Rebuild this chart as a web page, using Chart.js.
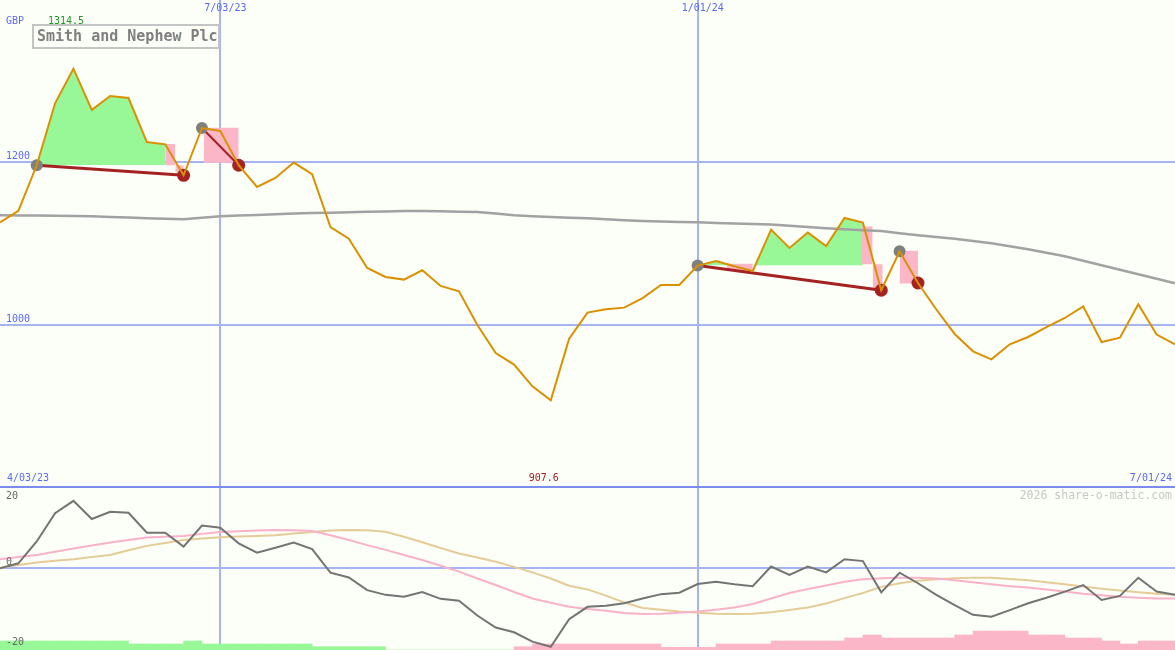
<!DOCTYPE html>
<html>
<head>
<meta charset="utf-8">
<script src="https://cdn.jsdelivr.net/npm/chart.js@4.4.1/dist/chart.umd.min.js"></script>
<style>
  html, body { margin: 0; padding: 0; background: #FCFEF8; }
  #wrap { position: relative; width: 1175px; height: 650px; overflow: hidden; background: #FCFEF8; }
  canvas { position: absolute; left: 0; display: block; }
  #top { top: 0; }
  #bot { top: 486px; }
</style>
</head>
<body>
<div id="wrap">
  <canvas id="top" width="1175" height="486"></canvas>
  <canvas id="bot" width="1175" height="164"></canvas>
</div>
<script>
// weekly closes, index 0 = first week on the chart
var price = [1126, 1140, 1196, 1272, 1314.5, 1264, 1281, 1278.5, 1224.5, 1221.7,
  1183.7, 1241.7, 1238, 1196, 1169.3, 1180.4, 1199.3, 1185, 1120.2, 1106,
  1070, 1058.9, 1055.7, 1067.1, 1047.9, 1041.3, 1000, 965.6, 951.4, 924.8,
  907.6, 983.3, 1015.2, 1019.3, 1021.3, 1033.1, 1049.1, 1049.1, 1072.9, 1078.5,
  1072, 1066.3, 1117, 1094.5, 1113.4, 1096.9, 1131.3, 1125.6, 1042.6, 1090.4,
  1051.5, 1019, 989, 967.7, 957.9, 976.3, 985.3, 997.5, 1008.6, 1022.9,
  979.1, 984.5, 1025.4, 988.2, 976.3];

// long moving average (grey)
var avg = [1134.6, 1134.4, 1134.2, 1134, 1133.7, 1133.4, 1132.6, 1131.8, 1131, 1130.3,
  1129.7, 1131.5, 1133.4, 1134.2, 1135, 1135.9, 1136.7, 1137.3, 1137.8, 1138.4,
  1138.9, 1139.4, 1139.9, 1139.8, 1139.5, 1139.1, 1138.7, 1136.7, 1134.6, 1133.5,
  1132.5, 1131.7, 1130.9, 1129.7, 1128.5, 1127.7, 1126.9, 1126.4, 1126, 1125.2,
  1124.4, 1123.8, 1123.2, 1121.7, 1120.2, 1118.8, 1117.4, 1116.3, 1115.3, 1112.6,
  1110, 1107.9, 1105.8, 1103, 1100.2, 1096.6, 1092.9, 1088.6, 1084.3, 1078.8,
  1073.3, 1067.8, 1062.2, 1056.7, 1051.2];

// lower panel: oscillator and its two smoothings
var osc = [-0.1, 1.3, 7.3, 15.1, 18.5, 13.5, 15.5, 15.2, 9.7, 9.7,
  5.9, 11.7, 11.1, 6.8, 4.2, 5.6, 7.0, 5.2, -1.3, -2.6,
  -6.1, -7.4, -7.9, -6.6, -8.5, -9.0, -13.1, -16.4, -17.7, -20.3,
  -21.7, -14.1, -10.7, -10.4, -9.7, -8.4, -7.2, -6.8, -4.4, -3.8,
  -4.5, -5.0, 0.4, -1.9, 0.4, -1.2, 2.4, 1.9, -6.7, -1.3,
  -4.2, -7.4, -10.2, -12.9, -13.4, -11.6, -9.7, -8.2, -6.5, -4.7,
  -8.8, -7.7, -2.7, -6.5, -7.4];
var oscPink = [2.4, 3.0, 3.6, 4.5, 5.4, 6.2, 7.0, 7.7, 8.4, 8.6,
  8.8, 9.4, 9.9, 10.1, 10.3, 10.5, 10.4, 10.2, 9.0, 7.7,
  6.3, 5.0, 3.6, 2.2, 0.6, -1.0, -2.9, -4.7, -6.6, -8.4,
  -9.6, -10.7, -11.3, -11.8, -12.4, -12.7, -12.6, -12.3, -12.0, -11.5,
  -10.9, -9.9, -8.4, -6.9, -5.8, -4.8, -3.8, -3.1, -2.8, -2.7,
  -2.7, -2.9, -3.4, -3.9, -4.5, -5.0, -5.4, -5.9, -6.5, -7.1,
  -7.5, -7.9, -8.2, -8.4, -8.4];
var oscTan = [0, 0.8, 1.5, 2.0, 2.4, 3.0, 3.6, 4.9, 6.1, 6.9,
  7.7, 8.1, 8.5, 8.7, 8.8, 9.0, 9.5, 9.9, 10.3, 10.5,
  10.4, 10.0, 8.6, 7.1, 5.5, 4.0, 2.9, 1.7, 0.3, -1.2,
  -2.9, -4.9, -5.9, -7.6, -9.5, -11.0, -11.5, -12.0, -12.3, -12.6,
  -12.7, -12.6, -12.2, -11.6, -10.9, -9.8, -8.3, -6.9, -5.2, -4.2,
  -3.5, -3.1, -2.8, -2.7, -2.7, -3.0, -3.4, -3.9, -4.5, -5.1,
  -5.7, -6.2, -6.7, -7.1, -7.4];
// histogram strip, one per week interval (+ green, - pink)
var hist = [3, 3, 3, 3, 3, 3, 3, 2, 2, 2,
  3, 2, 2, 2, 2, 2, 2, 1.1, 1.1, 1.1,
  1.1, 0, 0, 0, 0, 0, 0, 0, -1.1, -2,
  -2, -2, -2, -2, -2, -2, -0.9, -0.9, -0.9, -2,
  -2, -2, -3, -3, -3, -3, -4, -5, -4, -4,
  -4, -4, -5, -6.3, -6.3, -6.3, -5, -5, -4, -4,
  -3, -2, -3, -3];

var dateTicks = ['4/03/23', '7/03/23', '1/01/24', '7/01/24'];
var dateTickIdx = [0, 12, 38, 64];
var priceGrid = [1200, 1000];
var oscGrid = [20, 0, -20];

// rally runs (green), measured from the price at the run start
var greenRuns = [[2, 9], [38, 47]];
// pull-back blocks (pink)
var pinkX0 = [9, 9.55, 11.1, 39.6, 46.93, 47.53, 49];
var pinkX1 = [9.55, 10, 13, 41, 47.53, 48.08, 50];
var pinkLo = [1196, 1187, 1199, 1066.3, 1074.5, 1045, 1051];
var pinkHi = [1222, 1196, 1242, 1075, 1121, 1074.5, 1091];
// trend lines high -> low
var trendPairs = [[2, 10], [11, 13], [38, 48]];
var trendWidths = [3, 2, 3];
var highIdx = [2, 11, 38, 49];
var lowIdx = [10, 13, 48, 50];

var BLUE = '#5A6AF0', GRID = '#A6B4F2', SEP = '#7C8CEC';
var MONO = '"DejaVu Sans Mono"';

function pts(arr, from, to) {
  return arr.slice(from, to + 1).map(function(v, k) { return {x: from + k, y: v}; });
}

var gridPlugin = {
  id: 'panelGrid',
  beforeDatasetsDraw: function(chart, args, o) {
    var ctx = chart.ctx, a = chart.chartArea, x = chart.scales.x, y = chart.scales.y;
    ctx.save();
    ctx.lineWidth = 2;
    ctx.strokeStyle = GRID;
    (o.hLines || []).forEach(function(v) {
      var py = Math.round(y.getPixelForValue(v));
      ctx.beginPath(); ctx.moveTo(a.left, py); ctx.lineTo(a.right, py); ctx.stroke();
    });
    dateTickIdx.slice(1, 3).forEach(function(i) {
      var px = Math.round(x.getPixelForValue(i));
      ctx.beginPath(); ctx.moveTo(px, a.top); ctx.lineTo(px, a.bottom); ctx.stroke();
    });
    if (o.separator) {
      ctx.fillStyle = SEP;
      ctx.fillRect(a.left, a.top, a.right - a.left, 2);
    }
    ctx.restore();
  }
};

var topText = {
  id: 'topText',
  afterDatasetsDraw: function(chart) {
    var ctx = chart.ctx, a = chart.chartArea, x = chart.scales.x, y = chart.scales.y;
    ctx.save();
    ctx.textBaseline = 'middle';
    ctx.font = '10px ' + MONO;
    ctx.fillStyle = BLUE;
    ctx.fillText('GBP', 6, 21);
    priceGrid.forEach(function(v) { ctx.fillText(String(v), 6, y.getPixelForValue(v) - 6); });
    ctx.fillText(dateTicks[1], x.getPixelForValue(dateTickIdx[1]) - 16, 8.5);
    ctx.fillText(dateTicks[2], x.getPixelForValue(dateTickIdx[2]) - 16, 8.5);
    ctx.fillText(dateTicks[0], 7, a.bottom - 7.5);
    ctx.textAlign = 'right';
    ctx.fillText(dateTicks[3], x.getPixelForValue(dateTickIdx[3]) - 3, a.bottom - 7.5);
    ctx.textAlign = 'left';
    var hi = Math.max.apply(null, price), lo = Math.min.apply(null, price);
    ctx.fillStyle = '#229A22';
    ctx.fillText(hi.toFixed(1), 48, 21);
    ctx.fillStyle = '#A52222';
    ctx.fillText(lo.toFixed(1), x.getPixelForValue(price.indexOf(lo)) - 22, a.bottom - 7.5);
    // title box
    ctx.fillStyle = '#FCFEF8';
    ctx.fillRect(33, 25, 186, 23);
    ctx.lineWidth = 2;
    ctx.strokeStyle = '#C4C4C4';
    ctx.strokeRect(33, 25, 186, 23);
    ctx.font = 'bold 15px ' + MONO;
    ctx.fillStyle = '#808080';
    ctx.fillText('Smith and Nephew Plc', 37, 37);
    ctx.restore();
  }
};

var botText = {
  id: 'botText',
  afterDatasetsDraw: function(chart) {
    var ctx = chart.ctx, a = chart.chartArea, y = chart.scales.y;
    ctx.save();
    ctx.textBaseline = 'middle';
    ctx.font = '11.5px ' + MONO;
    ctx.fillStyle = '#C8C8C8';
    ctx.textAlign = 'right';
    ctx.fillText('2026 share-o-matic.com', a.right - 3, a.top + 10);
    ctx.textAlign = 'left';
    ctx.font = '10px ' + MONO;
    ctx.fillStyle = '#666666';
    oscGrid.forEach(function(v) {
      ctx.fillText(String(v), 6, y.getPixelForValue(v) + (v === 0 ? -6 : 1.5));
    });
    ctx.restore();
  }
};

// ---- top panel ----
var topSets = [];
greenRuns.forEach(function(r) {
  topSets.push({
    data: pts(price, r[0], r[1]), borderWidth: 0, borderColor: 'rgba(0,0,0,0)', pointRadius: 0,
    fill: {target: {value: price[r[0]]}, above: '#98F898', below: 'rgba(0,0,0,0)'}, order: 10
  });
});
pinkX0.forEach(function(x0, k) {
  topSets.push({
    data: [{x: x0, y: pinkHi[k]}, {x: pinkX1[k], y: pinkHi[k]}],
    borderWidth: 0, borderColor: 'rgba(0,0,0,0)', pointRadius: 0,
    backgroundColor: '#FBB6C8', fill: {value: pinkLo[k]}, order: 9
  });
});
topSets.push({data: pts(avg, 0, avg.length - 1), borderColor: '#A2A2A2', borderWidth: 2.5, pointRadius: 0, fill: false, order: 6});
trendPairs.forEach(function(p, k) {
  topSets.push({
    data: [{x: p[0], y: price[p[0]]}, {x: p[1], y: price[p[1]]}],
    borderColor: '#A52222', borderWidth: trendWidths[k], pointRadius: 0, fill: false, order: 5
  });
});
topSets.push({
  data: highIdx.map(function(i) { return {x: i, y: price[i]}; }), showLine: false,
  pointRadius: 6, pointBackgroundColor: '#808080', pointBorderWidth: 0, order: 4
});
topSets.push({
  data: lowIdx.map(function(i) { return {x: i, y: price[i]}; }), showLine: false,
  pointRadius: 6.5, pointBackgroundColor: '#A52222', pointBorderWidth: 0, order: 3
});
topSets.push({data: pts(price, 0, price.length - 1), borderColor: '#DA9100', borderWidth: 2, pointRadius: 0, fill: false, order: 1});

new Chart(document.getElementById('top'), {
  type: 'line',
  data: {datasets: topSets},
  options: {
    responsive: false, animation: false, devicePixelRatio: 1, events: [],
    layout: {padding: 0, autoPadding: false},
    elements: {line: {tension: 0}},
    plugins: {legend: {display: false}, tooltip: {enabled: false}, panelGrid: {hLines: priceGrid}},
    scales: {
      x: {type: 'linear', min: 0, max: 64, display: false, offset: false},
      y: {type: 'linear', min: 802.45, max: 1398.77, display: false}
    }
  },
  plugins: [gridPlugin, topText]
});

// ---- lower panel ----
new Chart(document.getElementById('bot'), {
  type: 'line',
  data: {
    datasets: [
      {data: pts(osc, 0, osc.length - 1), borderColor: '#747474', borderWidth: 2, pointRadius: 0, fill: false, order: 1},
      {data: pts(oscPink, 0, oscPink.length - 1), borderColor: '#F9B2C8', borderWidth: 2, pointRadius: 0, fill: false, order: 2},
      {data: pts(oscTan, 0, oscTan.length - 1), borderColor: '#E4CC98', borderWidth: 2, pointRadius: 0, fill: false, order: 3},
      {
        type: 'bar', yAxisID: 'yh', order: 4,
        data: hist.map(function(v, i) { return {x: i + 0.5, y: Math.abs(v)}; }),
        backgroundColor: hist.map(function(v) { return v >= 0 ? '#98F898' : '#FBB6C8'; }),
        borderWidth: 0, barPercentage: 1, categoryPercentage: 1, grouped: false
      }
    ]
  },
  options: {
    responsive: false, animation: false, devicePixelRatio: 1, events: [],
    layout: {padding: 0, autoPadding: false},
    elements: {line: {tension: 0}},
    plugins: {legend: {display: false}, tooltip: {enabled: false}, panelGrid: {hLines: [0], separator: true}},
    scales: {
      x: {type: 'linear', min: 0, max: 64, display: false, offset: false},
      y: {type: 'linear', min: -22.59, max: 22.59, display: false},
      yh: {type: 'linear', min: 0, max: 54.67, display: false}
    }
  },
  plugins: [gridPlugin, botText]
});
</script>
</body>
</html>
